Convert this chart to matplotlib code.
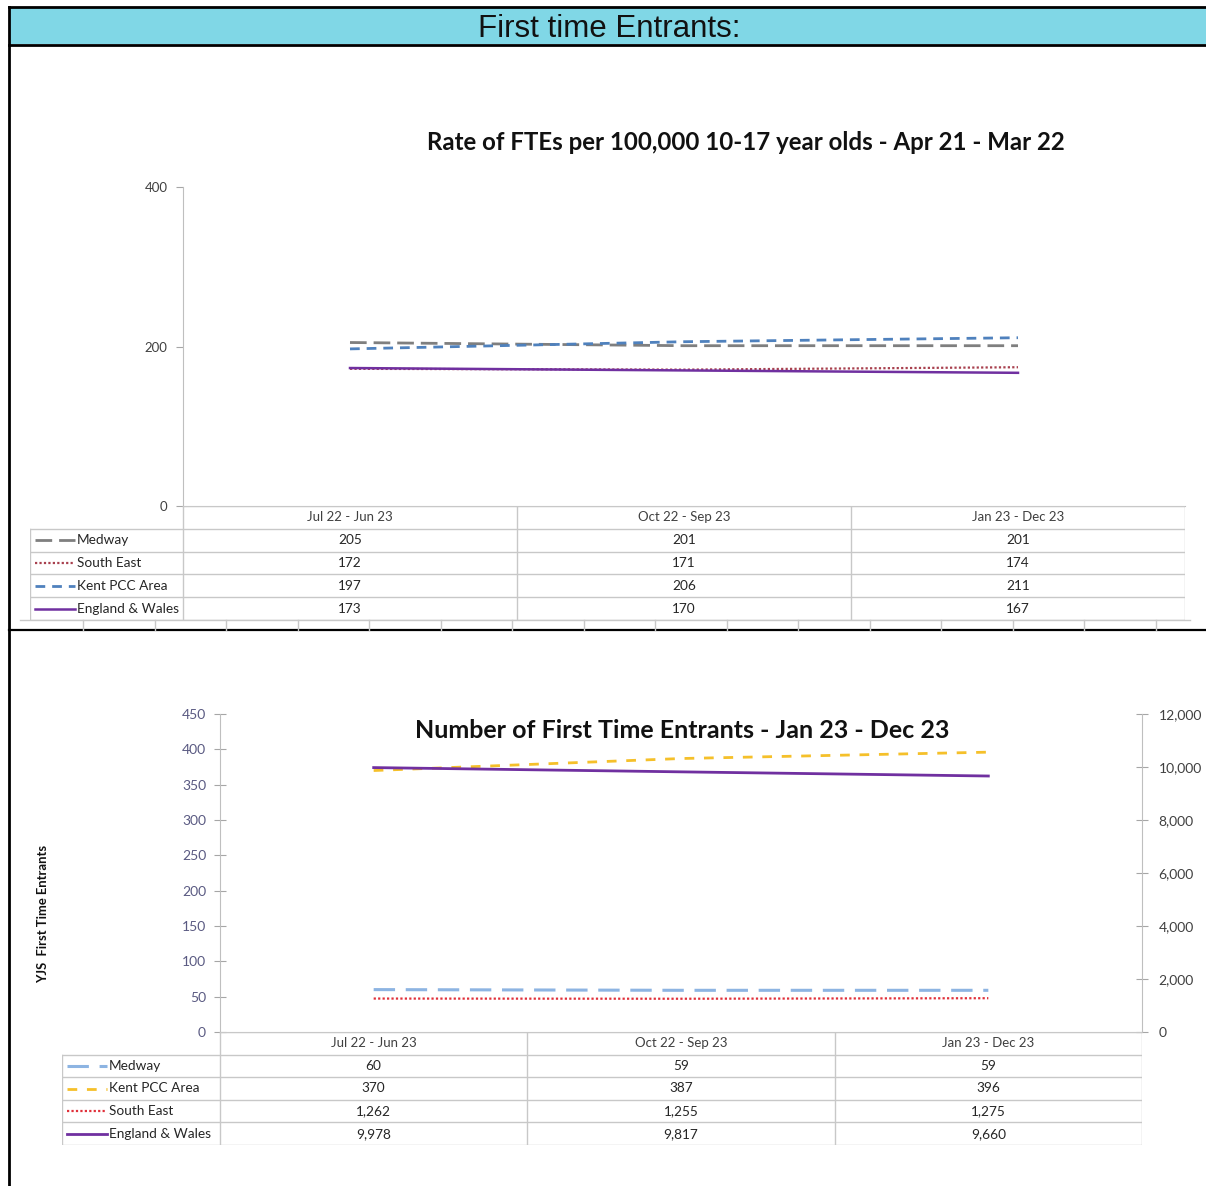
import matplotlib
matplotlib.use('Agg')
import matplotlib.pyplot as plt
from matplotlib.patches import Rectangle

plt.rcParams['font.family'] = ['Lato', 'DejaVu Sans']

W, H = 1206, 1186

# ------- data
periods = ['Jul 22 - Jun 23', 'Oct 22 - Sep 23', 'Jan 23 - Dec 23']

rate_names = ['Medway', 'South East', 'Kent PCC Area', 'England & Wales']
rate_medway = [205, 201, 201]
rate_south_east = [172, 171, 174]
rate_kent = [197, 206, 211]
rate_england_wales = [173, 170, 167]

count_names = ['Medway', 'Kent PCC Area', 'South East', 'England & Wales']
count_medway = [60, 59, 59]
count_kent = [370, 387, 396]
count_south_east = [1262, 1255, 1275]
count_england_wales = [9978, 9817, 9660]

rate_yticks = [0, 200, 400]
count_left_ticks = [0, 50, 100, 150, 200, 250, 300, 350, 400, 450]
count_right_ticks = [0, 2000, 4000, 6000, 8000, 10000, 12000]

GRID = '#c8c8c8'
TXT = '#404040'


def px_axes(x0, y0, x1, y1):
    return fig.add_axes([x0 / W, 1 - y1 / H, (x1 - x0) / W, (y1 - y0) / H])


def style_plot(ax, yticks, ylim, label_color):
    ax.set_xlim(-0.5, 2.5)
    ax.set_ylim(*ylim)
    ax.set_yticks(yticks)
    ax.set_xticks([])
    for s in ['top', 'right']:
        ax.spines[s].set_visible(False)
    ax.spines['left'].set_color('#bfbfbf')
    ax.spines['bottom'].set_color('#bfbfbf')
    ax.tick_params(axis='y', length=5, color='#a6a6a6', labelsize=9.5,
                   labelcolor=label_color, pad=6)
    ax.patch.set_alpha(0)


def data_table(leg_x0, x0, x1, y0, y1, names, values, styles, fmt):
    ax = px_axes(leg_x0, y0, x1, y1)
    unit = (x1 - x0) / 3.0
    xl = -0.5 - (x0 - leg_x0) / unit
    ax.set_xlim(xl, 2.5)
    ax.set_ylim(len(names) + 1, 0)
    ax.axis('off')
    n = len(names) + 1
    # grid
    ax.plot([-0.5, 2.5], [0, 0], color=GRID, lw=1)
    for r in range(1, n + 1):
        ax.plot([xl, 2.5], [r, r], color=GRID, lw=1)
    for c in [-0.5, 0.5, 1.5, 2.5]:
        ax.plot([c, c], [0, n], color=GRID, lw=1)
    ax.plot([xl, xl], [1, n], color=GRID, lw=1)
    # header
    for i, p in enumerate(periods):
        ax.text(i, 0.5, p, ha='center', va='center', fontsize=9.5, color=TXT)
    # rows
    for r, (name, vals, st) in enumerate(zip(names, values, styles), start=1):
        ax.plot([xl + 5 / unit, xl + 45 / unit], [r + 0.5, r + 0.5], **st)
        ax.text(xl + 47 / unit, r + 0.5, name, ha='left', va='center',
                fontsize=9.8, color='#262626')
        for i, v in enumerate(vals):
            ax.text(i, r + 0.5, fmt(v), ha='center', va='center',
                    fontsize=9.8, color='#262626')
    return ax


fig = plt.figure(figsize=(W / 100, H / 100), dpi=100)

# ------- page frame and heading cell
bg = fig.add_axes([0, 0, 1, 1])
bg.set_xlim(0, W)
bg.set_ylim(H, 0)
bg.axis('off')
bg.add_patch(Rectangle((9, 7), W - 9, 37, facecolor='#80d7e6', edgecolor='none'))
bg.plot([9, W], [7, 7], color='black', lw=2)
bg.plot([9, W], [44.5, 44.5], color='black', lw=2)
bg.plot([9, 9], [7, H], color='black', lw=2)
bg.plot([9, W], [630, 630], color='black', lw=1.6)
bg.text(609, 37, 'First time Entrants:', ha='center', va='baseline', fontsize=22.5,
        family=['Liberation Sans', 'DejaVu Sans'], color='#111111')
# faint axis remains under the first table
bg.plot([20, 1190], [620, 620], color=GRID, lw=1)
for k in range(16):
    bg.plot([83 + 71.5 * k] * 2, [620, 630], color=GRID, lw=1)

# ------- rate of FTEs
rate_styles = [
    dict(color='#7f7f7f', lw=2, dashes=(6, 2.5)),
    dict(color='#a8404e', lw=1.6, dashes=(1, 1)),
    dict(color='#4f81bd', lw=2, dashes=(3.5, 2.5)),
    dict(color='#7030a0', lw=1.8),
]
rate_values = [rate_medway, rate_south_east, rate_kent, rate_england_wales]

ax1 = px_axes(183, 187, 1185, 506)
style_plot(ax1, rate_yticks, (0, 400), TXT)
for vals, st in zip(rate_values, rate_styles):
    ax1.plot(range(3), vals, **st)
fig.text(746 / W, 1 - 143 / H, 'Rate of FTEs per 100,000 10-17 year olds - Apr 21 - Mar 22',
         ha='center', va='center', fontsize=17.3, fontweight='bold', color='#111111')

data_table(30, 183, 1185, 506, 620, rate_names, rate_values, rate_styles,
           lambda v: f'{v:,}')

# ------- number of FTEs
count_styles = [
    dict(color='#8db4e2', lw=2.2, dashes=(7, 3.5)),
    dict(color='#f5c02a', lw=2, dashes=(3.5, 3.5)),
    dict(color='#e0303a', lw=1.6, dashes=(1, 1)),
    dict(color='#7030a0', lw=2),
]
count_values = [count_medway, count_kent, count_south_east, count_england_wales]

ax2 = px_axes(220, 714, 1142, 1032)
style_plot(ax2, count_left_ticks, (0, 450), '#5a5a82')
ax2.tick_params(axis='y', direction='inout', length=8, labelsize=10)
ax3 = ax2.twinx()
ax3.set_ylim(0, 12000)
ax3.set_yticks(count_right_ticks)
ax3.set_yticklabels([f'{t:,}' for t in count_right_ticks])
for s in ['top', 'left', 'bottom']:
    ax3.spines[s].set_visible(False)
ax3.spines['right'].set_color('#bfbfbf')
ax3.tick_params(axis='y', direction='inout', length=8, color='#a6a6a6',
                labelsize=10, labelcolor=TXT, pad=8)

# Medway and Kent on the left scale, South East and England & Wales on the right
ax2.plot(range(3), count_medway, **count_styles[0])
ax2.plot(range(3), count_kent, **count_styles[1])
ax3.plot(range(3), count_south_east, **count_styles[2])
ax3.plot(range(3), count_england_wales, **count_styles[3])

ax2.set_ylabel('YJS  First Time Entrants', fontsize=9.4, fontweight='bold',
               color='#111111', labelpad=0)
ax2.yaxis.set_label_coords((49 - 220) / (1142 - 220), 0.37)
fig.text(682 / W, 1 - 731 / H, 'Number of First Time Entrants - Jan 23 - Dec 23',
         ha='center', va='center', fontsize=18, fontweight='bold', color='#111111')

data_table(62, 220, 1142, 1032, 1145, count_names, count_values, count_styles,
           lambda v: f'{v:,}')

fig.savefig('out.png', dpi=100)
